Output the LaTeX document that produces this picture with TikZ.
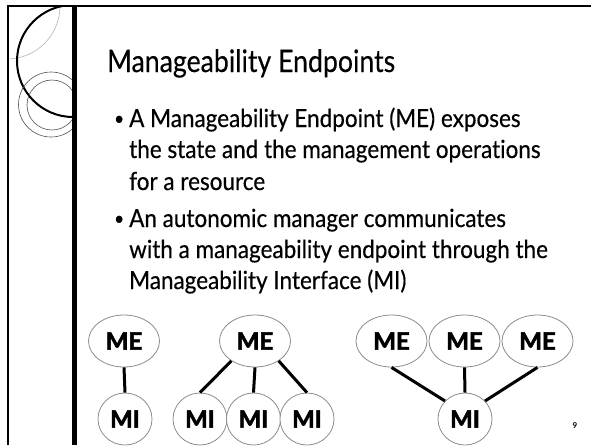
\documentclass[tikz,border=0pt]{standalone}
\usepackage{fontspec}
\setmainfont{Lato}[Ligatures=NoCommon]
\newfontfamily\bodyfont{Lato}[Ligatures=NoCommon, FakeStretch=0.9, FakeBold=0.4]
\newfontfamily\titlefont{Lato}[Ligatures=NoCommon, FakeStretch=0.86, FakeBold=0.3]
\newfontfamily\labelfont{Lato}[BoldFeatures={FakeBold=2.4}]
\usetikzlibrary{shapes.geometric}
\definecolor{rimgray}{HTML}{8C8C8C}
\definecolor{arcgray}{HTML}{B4B4B4}
\definecolor{ringgray}{HTML}{505050}
\begin{document}
\begin{tikzpicture}[x=1pt,y=-1pt,
  me/.style={ellipse, draw=rimgray, line width=0.8pt, fill=white,
    minimum width=71pt, minimum height=52pt, inner sep=0pt,
    font=\labelfont\fontsize{24}{24}\selectfont\bfseries},
  mi/.style={me, minimum width=54pt, minimum height=52pt},
  link/.style={line width=3pt, black},
  bodyline/.style={anchor=base west, inner sep=0pt,
    font=\bodyfont\fontsize{25}{30}\selectfont},
  bulletmark/.style={anchor=base west, inner sep=0pt,
    font=\bodyfont\fontsize{19}{20}\selectfont}
]
\useasboundingbox (0,0) rectangle (591,445);

% decorative left strip
\begin{scope}
  \clip (8,6) rectangle (74,445);
  \draw[arcgray, line width=0.6pt] (7,6) circle[radius=53];
  \draw[black, line width=2pt] (73,61) circle[radius=56];
  \draw[ringgray, line width=0.6pt] (51,104.5) circle[radius=32.5];
  \draw[ringgray, line width=0.6pt] (52,105) circle[radius=25];
\end{scope}
\draw[line width=1.5pt] (8,5) -- (8,445);
\draw[line width=2.2pt] (7,6) -- (591,6);
\draw[line width=4.5pt] (74.5,5) -- (74.5,445);

% title and bullet text
\node[anchor=base west, inner sep=0pt, font=\titlefont\fontsize{31}{36}\selectfont]
  (title) at (107,72) {Manageability Endpoints};
\node[bulletmark] (b1) at (114,125) {\textbullet};
\node[bodyline] (l1) at (129,127) {A Manageability Endpoint (ME) exposes};
\node[bodyline] (l2) at (129,158) {the state and the management operations};
\node[bodyline] (l3) at (129,190) {for a resource};
\node[bulletmark] (b2) at (114,225) {\textbullet};
\node[bodyline] (l4) at (129,227) {An autonomic manager communicates};
\node[bodyline] (l5) at (129,258) {with a manageability endpoint through the};
\node[bodyline] (l6) at (129,289) {Manageability Interface (MI)};

% one endpoint, one interface
\node[me] (me1) at (124,341) {ME};
\node[mi] (mi1) at (125,419) {MI};
\draw[link] (me1.south) -- (mi1.north);

% one endpoint, three interfaces
\node[me] (me2) at (255,341) {ME};
\node[mi] (mi2a) at (200,419) {MI};
\node[mi] (mi2b) at (253.5,419) {MI};
\node[mi] (mi2c) at (307,419) {MI};
\draw[link] (me2.220) -- (mi2a.north);
\draw[link] (me2.south) -- (mi2b.north);
\draw[link] (me2.320) -- (mi2c.north);

% three endpoints, one interface
\node[me] (me3a) at (391.5,341) {ME};
\node[me] (me3b) at (464.5,341) {ME};
\node[me] (me3c) at (537.5,341) {ME};
\node[mi] (mi3) at (465,419) {MI};
\draw[link] (me3a.south) -- (mi3.138);
\draw[link] (me3b.south) -- (mi3.north);
\draw[link] (me3c.south) -- (mi3.42);

% slide number
\node[anchor=base, inner sep=0pt, font=\fontsize{8}{8}\selectfont\bfseries]
  (pageno) at (575,428) {9};
\end{tikzpicture}
\end{document}
